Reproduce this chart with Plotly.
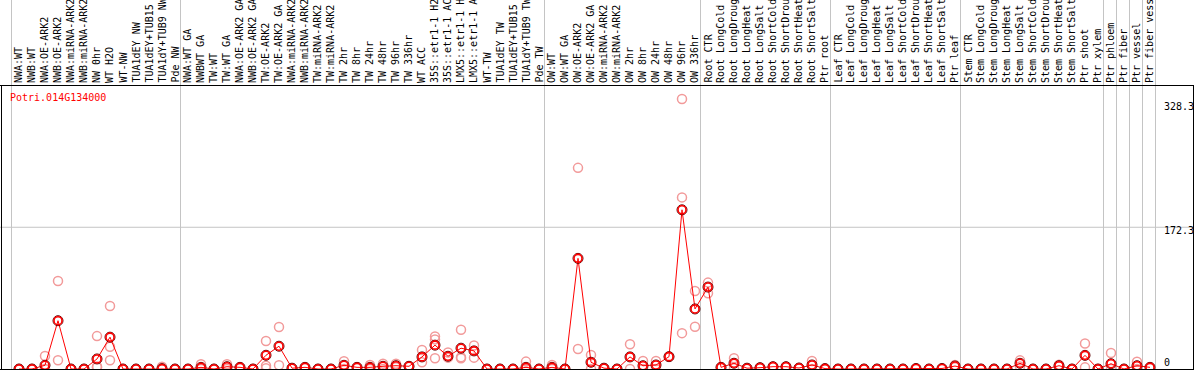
import plotly.graph_objects as go

# ---------------- data ----------------
gene_id = "Potri.014G134000"

categories = [
    "NWA:WT", "NWB:WT", "NWA:OE-ARK2", "NWB:OE-ARK2", "NWA:miRNA-ARK2", "NWB:miRNA-ARK2",
    "NW 0hr", "WT H2O", "WT-NW", "TUA1dEY NW", "TUA1dEY+TUB15 NW", "TUA1dY+TUB9 NW", "Pde NW",
    "NWA:WT GA", "NWBWT GA", "TW:WT", "TW:WT GA", "NWA:OE-ARK2 GA", "NWB:OE-ARK2 GA",
    "TW:OE-ARK2", "TW:OE-ARK2 GA", "NWA:miRNA-ARK2 GA", "NWB:miRNA-ARK2 GA", "TW:miRNA-ARK2",
    "TW:miRNA-ARK2 GA", "TW 2hr", "TW 8hr", "TW 24hr", "TW 48hr", "TW 96hr", "TW 336hr",
    "WT ACC", "35S::etr1-1 H2O", "35S::etr1-1 ACC", "LMX5::etr1-1 H2O", "LMX5::etr1-1 ACC",
    "WT-TW", "TUA1dEY TW", "TUA1dEY+TUB15 TW", "TUA1dY+TUB9 TW", "Pde TW",
    "OW:WT", "OW:WT GA", "OW:OE-ARK2", "OW:OE-ARK2 GA", "OW:miRNA-ARK2", "OW:miRNA-ARK2 GA",
    "OW 2hr", "OW 8hr", "OW 24hr", "OW 48hr", "OW 96hr", "OW 336hr",
    "Root CTR", "Root LongCold", "Root LongDrought", "Root LongHeat", "Root LongSalt",
    "Root ShortCold", "Root ShortDrought", "Root ShortHeat", "Root ShortSalt", "Ptr root",
    "Leaf CTR", "Leaf LongCold", "Leaf LongDrought", "Leaf LongHeat", "Leaf LongSalt",
    "Leaf ShortCold", "Leaf ShortDrought", "Leaf ShortHeat", "Leaf ShortSalt", "Ptr leaf",
    "Stem CTR", "Stem LongCold", "Stem LongDrought", "Stem LongHeat", "Stem LongSalt",
    "Stem ShortCold", "Stem ShortDrought", "Stem ShortHeat", "Stem ShortSalt", "Ptr shoot",
    "Ptr xylem", "Ptr phloem", "Ptr fiber", "Ptr vessel", "Ptr fiber vessel",
]

group_sizes = [13, 28, 12, 10, 10, 11, 1, 1, 1, 1]

means = [
    0, 0, 4.5, 58.7, 0, 0, 12.2, 38.7, 0, 0, 0, 0.5, 0,
    0, 2, 0, 2.8, 2, 0, 16.7, 27.7, 1, 2, 0, 0, 4.5, 2, 2, 3.3, 4, 3.3,
    14.7, 29, 15.5, 25.3, 22, 0, 0, 0, 2, 0,
    2, 0, 134.5, 8.2, 1, 0, 14.7, 4, 4.9, 15, 193.5, 73,
    99.6, 2, 7, 1, 1.6, 2.8, 2.8, 1.2, 4.9, 0.5,
    0, 0, 0, 0, 0, 0, 0.6, 0, 0.6, 3.6,
    0, 0, 0, 0, 6.9, 0, 0, 4, 0, 16.6, 0,
    6.4, 0, 4, 2,
]

replicates = [
    [0, 0], [0, 0], [15.9, 0, 0], [107, 10.6], [0, 0], [0, 0], [40, 3, 2], [76.6, 27, 10.6],
    [0, 0], [0, 0], [0, 0], [2.8, 0], [0, 0],
    [0, 0], [5.7, 0], [0, 0], [5.7, 0], [2, 2], [0, 0], [34, 4, 1], [51, 4.5], [1, 1], [2, 2],
    [0, 0], [0, 0], [9.4, 0], [2, 2], [5, 0], [6.5, 0], [6.5, 2], [3.3, 3.3],
    [23, 8.2], [39.5, 36, 13], [20, 13.8], [47.7, 14.3, 13], [28.5, 13.8],
    [0, 0], [0, 0], [0, 0], [9, 0], [0, 0],
    [5, 0], [0, 0], [244.5, 24.4], [17, 0], [1, 1], [0, 0], [30, 0], [9.8, 0], [9.8, 0],
    [15, 15], [328.3, 208.6, 43.6], [94.8, 51.4],
    [105, 92], [2, 2], [13, 1], [1, 1], [1.6, 1.6], [2.8, 2.8], [2.8, 2.8], [1.2, 1.2],
    [9.7, 0], [0.5, 0.5],
    [0, 0], [0, 0], [0, 0], [0, 0], [0, 0], [0, 0], [0.6, 0.6], [0, 0], [0.6, 0.6], [4.9, 2],
    [0, 0], [0, 0], [0, 0], [0, 0], [10.5, 3], [0, 0], [0, 0], [5.3, 3], [0, 0], [31, 2], [0, 0],
    [19.4, 0], [0, 0], [8.9, 0], [2, 2],
]

y_labels = [328.3, 172.3, 0]
grid_values = [172.3]

# ---------------- layout constants ----------------
W, H = 1194, 370
TOP, BOTTOM = 86, 1
PLOT_H = H - TOP - BOTTOM
X0_PX, STEP_PX = 19, 13
XMIN = -X0_PX / STEP_PX
XMAX = (W - X0_PX) / STEP_PX
YMAX = 344
MONO = "DejaVu Sans Mono"
GRID = "#c4c4c4"


def px_y(p):
    return (H - BOTTOM - p) / PLOT_H


def px_x(p):
    return p / W


def data_x_to_px(x):
    return (x - XMIN) / (XMAX - XMIN) * W


n = len(categories)
xs = list(range(n))

rx, ry = [], []
for i, reps in enumerate(replicates):
    for v in reps:
        rx.append(i)
        ry.append(v)

fig = go.Figure()
fig.add_trace(go.Scatter(
    x=rx, y=ry, mode="markers", hoverinfo="skip",
    marker=dict(symbol="circle-open", size=9, color="#f29a9a", line=dict(width=1.5)),
))
fig.add_trace(go.Scatter(
    x=xs, y=means, mode="lines", line=dict(color="#ff0000", width=1), hoverinfo="skip",
))
fig.add_trace(go.Scatter(
    x=xs, y=means, mode="markers", hoverinfo="skip",
    marker=dict(symbol="circle-open", size=10, color="#5a0000", line=dict(width=1)),
))
fig.add_trace(go.Scatter(
    x=xs, y=means, mode="markers", text=categories,
    marker=dict(symbol="circle-open", size=8, color="#ff0000", line=dict(width=1.6)),
))

shapes = []
# group separators
bounds = [-0.6]
c = 0
for g in group_sizes:
    c += g
    bounds.append(c - 1 + 0.4)
for b in bounds:
    p = int(data_x_to_px(b)) + 0.5
    shapes.append(dict(type="line", xref="paper", yref="paper",
                       x0=px_x(p), x1=px_x(p), y0=px_y(H + 1), y1=px_y(-1),
                       line=dict(color=GRID, width=1), layer="below"))
# horizontal grid
for gv in grid_values:
    shapes.append(dict(type="line", xref="paper", yref="y", x0=0, x1=px_x(1193),
                       y0=gv, y1=gv, line=dict(color=GRID, width=1), layer="below"))
# frame
shapes.append(dict(type="line", xref="paper", yref="paper", x0=0, x1=1,
                   y0=px_y(85.5), y1=px_y(85.5), line=dict(color="black", width=1)))
shapes.append(dict(type="line", xref="paper", yref="paper", x0=px_x(1.5), x1=px_x(1.5),
                   y0=px_y(85.5), y1=px_y(370), line=dict(color="black", width=1)))
shapes.append(dict(type="line", xref="paper", yref="paper", x0=px_x(1193.5), x1=px_x(1193.5),
                   y0=px_y(85.5), y1=px_y(370), line=dict(color="black", width=1)))
shapes.append(dict(type="line", xref="paper", yref="paper", x0=0, x1=1,
                   y0=px_y(369.5), y1=px_y(369.5), line=dict(color="black", width=1)))

annotations = []
for i, name in enumerate(categories):
    annotations.append(dict(
        x=i, y=px_y(84), xref="x", yref="paper", text=name, showarrow=False,
        textangle=-90, xanchor="center", yanchor="bottom", borderpad=0,
        font=dict(family=MONO, size=10, color="black"),
    ))
annotations.append(dict(
    x=px_x(9), y=px_y(97), xref="paper", yref="paper", text=gene_id, showarrow=False,
    xanchor="left", yanchor="middle", borderpad=0,
    font=dict(family=MONO, size=10, color="#ff0000"),
))
shifts = [-8, -3, 7]
for j, v in enumerate(y_labels):
    annotations.append(dict(
        x=px_x(1163), y=v, xref="paper", yref="y", text=f"{v:g}" if v == 0 else f"{v}",
        showarrow=False, xanchor="left", yanchor="middle", yshift=shifts[j],
        borderpad=0, font=dict(family=MONO, size=10, color="black"),
    ))

fig.update_layout(
    width=W, height=H,
    margin=dict(l=0, r=0, t=TOP, b=BOTTOM, pad=0),
    paper_bgcolor="white", plot_bgcolor="white",
    showlegend=False,
    xaxis=dict(range=[XMIN, XMAX], visible=False, fixedrange=True),
    yaxis=dict(range=[0, YMAX], visible=False, fixedrange=True),
    shapes=shapes, annotations=annotations,
)

fig.write_html(
    "out.html",
    config={"displayModeBar": False},
    post_script="document.body.style.margin='0px';document.body.style.padding='0px';"
                "document.body.style.overflow='hidden';",
)
